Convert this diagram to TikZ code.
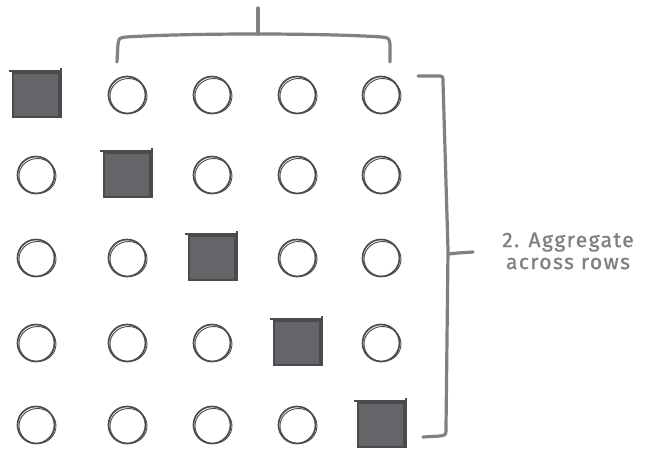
\documentclass[tikz,border=0pt]{standalone}
\usepackage{fontspec}
\newfontfamily\notefont[LetterSpace=7,FakeBold=1.2]{Fira Sans}
\usepackage{tikz}
\usetikzlibrary{positioning,calc}
\definecolor{inkdark}{HTML}{4A4B4D}
\definecolor{cellfill}{HTML}{636568}
\definecolor{bracegray}{HTML}{7E8083}

\begin{document}
\begin{tikzpicture}[x=1pt, y=-1pt,
  cell/.style={circle, draw=inkdark, line width=1.7pt, minimum size=37pt,
    inner sep=0pt},
  diag/.style={rectangle, draw=inkdark, fill=cellfill, line width=2.2pt,
    minimum width=46pt, minimum height=44pt, inner sep=0pt},
  sketch/.style={draw=inkdark, line width=0.9pt},
  brace/.style={draw=bracegray, line width=3.2pt, line cap=round,
    line join=round},
  note/.style={font=\notefont\fontsize{21}{22}\selectfont, text=bracegray,
    align=center}
]
\useasboundingbox (0,0) rectangle (648,450);

% grid of cells, squares on the diagonal
\foreach \c/\x in {1/36, 2/127, 3/212, 4/297, 5/381}
  \foreach \r/\y in {1/95, 2/175, 3/258, 4/343, 5/425}
  {
    \ifnum\c=\r
      \node[diag] (n\r\c) at (\x,\y) {};
      \draw[sketch, line width=1.6pt] ($(n\r\c.north west)+(-3,-1)$) -- ($(n\r\c.north east)+(0,-1)$);
      \draw[sketch, line width=1.6pt] ($(n\r\c.north east)+(1,-4)$) -- ($(n\r\c.south east)+(1,0)$);
    \else
      \node[cell] (n\r\c) at (\x,\y) {};
      \draw[sketch] ($(n\r\c.center)+(1.5,1)$) ellipse (18.5pt and 17.5pt);
    \fi
  }

% brace over the first row
\coordinate (tl) at (117,62);
\coordinate (tr) at (390,62);
\coordinate (ttip) at (258,8);
\draw[brace] (tl) -- (118,44) .. controls (119,38) .. (126,37)
  .. controls (190,33) and (320,33) .. (382,37)
  .. controls (389,38) .. (390,44) -- (tr);
\draw[brace] (258,34) -- (ttip);

% brace beside the rows
\coordinate (rt) at (418,76);
\coordinate (rb) at (423,437);
\coordinate (rtip) at (473,252);
\draw[brace] (rt) -- (437,76) .. controls (443,76) .. (443,82)
  -- (448,250) -- (446,428) .. controls (446,435) .. (440,436) -- (rb);
\draw[brace] (448,254) -- (458,253) -- (rtip);

\node[note] (agg) at (568,251) {2. Aggregate\\across rows};
\end{tikzpicture}
\end{document}
